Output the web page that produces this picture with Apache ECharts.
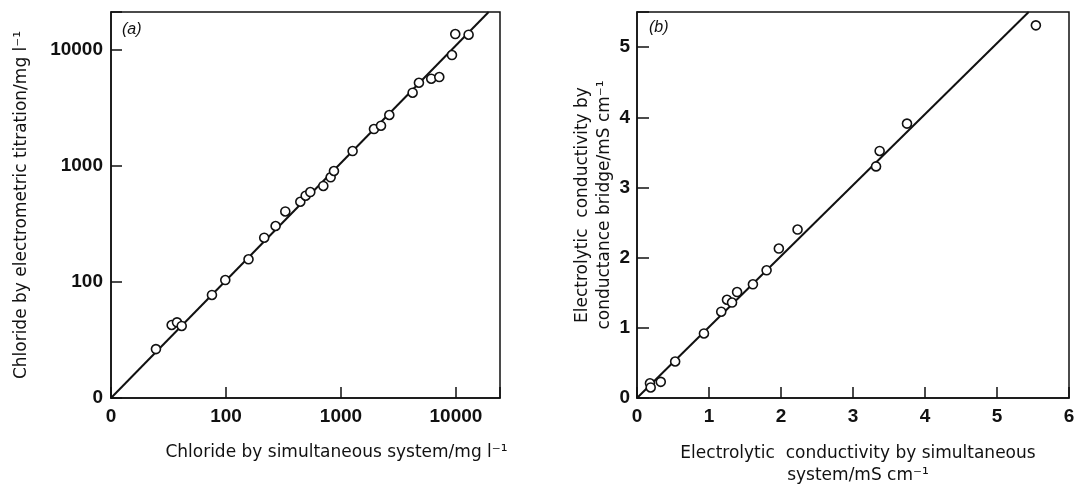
<!DOCTYPE html>
<html>
<head>
<meta charset="utf-8">
<title>Chloride and conductivity comparison</title>
<script src="https://cdn.jsdelivr.net/npm/echarts@6/dist/echarts.min.js"></script>
<style>
  html, body { margin: 0; padding: 0; background: #fff; }
  #chart { width: 1075px; height: 486px; }
</style>
</head>
<body>
<div id="chart"></div>
<script>
// (a) chloride, mg/l  (simultaneous system vs electrometric titration)
var chlorideSim = [24.6, 33.7, 37.5, 41.2, 75.5, 98.6, 157, 215, 270, 328, 443, 493, 541, 702, 813, 869,
  1262, 1936, 2228, 2632, 4198, 4764, 6095, 7161, 9230, 9860, 12880];
var chlorideTitr = [26.4, 42.6, 44.9, 41.8, 77.3, 104, 157, 241, 304, 406, 492, 555, 597, 673, 800, 906,
  1346, 2084, 2225, 2754, 4285, 5224, 5658, 5850, 9060, 13740, 13550];
var chlorideLineX = [10, 19240];
var chlorideLineY = [10, 21300];
// log axis: the bottom decade (10) is printed as "0"
var logTicks = [10, 100, 1000, 10000];
var logTickText = ["0", "100", "1000", "10000"];

// (b) electrolytic conductivity, mS/cm
var condSim = [0.18, 0.19, 0.33, 0.53, 0.93, 1.17, 1.25, 1.32, 1.39, 1.61, 1.80, 1.97, 2.23, 3.32, 3.37, 3.75, 5.54];
var condBridge = [0.21, 0.15, 0.23, 0.52, 0.92, 1.23, 1.40, 1.36, 1.51, 1.62, 1.82, 2.13, 2.40, 3.30, 3.52, 3.91, 5.31];
var condLineX = [0, 5.44];
var condLineY = [0, 5.5];
var condXTicks = [0, 1, 2, 3, 4, 5, 6];
var condYTicks = [0, 1, 2, 3, 4, 5];

function pairs(xs, ys) {
  var out = [];
  for (var i = 0; i < xs.length; i++) out.push([xs[i], ys[i]]);
  return out;
}

function logLabel(v) {
  var i = logTicks.indexOf(Math.round(v));
  return i < 0 ? "" : logTickText[i];
}

function intLabel(list) {
  return function (v) {
    return list.indexOf(v) < 0 ? "" : String(v);
  };
}

var ink = "#111";
var fontFamily = "'Liberation Sans', Arial, sans-serif";

var tickLabel = {
  color: ink,
  fontSize: 19,
  fontWeight: "bold",
  fontFamily: fontFamily
};
var nameStyle = {
  color: ink,
  fontSize: 17,
  fontFamily: "'DejaVu Sans', sans-serif",
  lineHeight: 22
};

var chart = echarts.init(document.getElementById("chart"));
chart.setOption({
  backgroundColor: "#fff",
  animation: false,
  grid: [
    {
      left: 111, top: 12, right: 575, bottom: 88,
      show: true, borderColor: ink, borderWidth: 1.5,
      containLabel: false, outerBoundsMode: "none"
    },
    {
      left: 637, top: 12, right: 6, bottom: 88,
      show: true, borderColor: ink, borderWidth: 1.5,
      containLabel: false, outerBoundsMode: "none"
    }
  ],
  xAxis: [
    {
      gridIndex: 0,
      type: "log",
      logBase: 10,
      min: 10,
      max: 24150,
      name: "Chloride by simultaneous system/mg l\u207B\u00B9",
      nameLocation: "middle",
      nameGap: 44,
      nameTextStyle: Object.assign({}, nameStyle, { padding: [0, 0, 0, 62] }),
      axisLine: { show: true, lineStyle: { color: ink, width: 1.5 } },
      axisTick: { show: true, inside: true, length: 11, lineStyle: { color: ink, width: 1.5 } },
      axisLabel: Object.assign({}, tickLabel, { margin: 9, formatter: logLabel }),
      splitLine: { show: false }
    },
    {
      gridIndex: 1,
      type: "value",
      min: 0,
      max: 6,
      interval: 1,
      name: "Electrolytic  conductivity by simultaneous\nsystem/mS cm\u207B\u00B9",
      nameLocation: "middle",
      nameGap: 45,
      nameTextStyle: Object.assign({}, nameStyle, { padding: [0, 0, 0, 10], verticalAlign: "top" }),
      axisLine: { show: true, lineStyle: { color: ink, width: 1.5 } },
      axisTick: { show: true, inside: true, length: 11, lineStyle: { color: ink, width: 1.5 } },
      axisLabel: Object.assign({}, tickLabel, { margin: 9, formatter: intLabel(condXTicks) }),
      splitLine: { show: false }
    }
  ],
  yAxis: [
    {
      gridIndex: 0,
      type: "log",
      logBase: 10,
      min: 10,
      max: 21280,
      name: "Chloride by electrometric titration/mg l\u207B\u00B9",
      nameLocation: "middle",
      nameGap: 78,
      nameTextStyle: nameStyle,
      axisLine: { show: true, lineStyle: { color: ink, width: 1.5 } },
      axisTick: { show: true, inside: true, length: 11, lineStyle: { color: ink, width: 1.5 } },
      axisLabel: Object.assign({}, tickLabel, { margin: 8, formatter: logLabel }),
      splitLine: { show: false }
    },
    {
      gridIndex: 1,
      type: "value",
      min: 0,
      max: 5.5,
      interval: 1,
      name: "Electrolytic  conductivity by\nconductance bridge/mS cm\u207B\u00B9",
      nameLocation: "middle",
      nameGap: 21,
      nameTextStyle: nameStyle,
      axisLine: { show: true, lineStyle: { color: ink, width: 1.5 } },
      axisTick: { show: true, inside: true, length: 12, lineStyle: { color: ink, width: 1.5 } },
      axisLabel: Object.assign({}, tickLabel, { margin: 7, formatter: intLabel(condYTicks) }),
      splitLine: { show: false }
    }
  ],
  graphic: [
    {
      type: "text", left: 122, top: 22,
      style: { text: "(a)", fill: ink, fontSize: 16, fontStyle: "italic", fontFamily: fontFamily }
    },
    {
      type: "text", left: 649, top: 20,
      style: { text: "(b)", fill: ink, fontSize: 16, fontStyle: "italic", fontFamily: fontFamily }
    }
  ],
  series: [
    {
      name: "fit a",
      type: "line",
      xAxisIndex: 0,
      yAxisIndex: 0,
      data: pairs(chlorideLineX, chlorideLineY),
      symbol: "none",
      lineStyle: { color: ink, width: 2 },
      z: 2
    },
    {
      name: "chloride",
      type: "scatter",
      xAxisIndex: 0,
      yAxisIndex: 0,
      data: pairs(chlorideSim, chlorideTitr),
      symbol: "circle",
      symbolSize: 9,
      itemStyle: { color: "#fff", borderColor: ink, borderWidth: 1.6, opacity: 1 },
      z: 3
    },
    {
      name: "fit b",
      type: "line",
      xAxisIndex: 1,
      yAxisIndex: 1,
      data: pairs(condLineX, condLineY),
      symbol: "none",
      lineStyle: { color: ink, width: 2 },
      z: 2
    },
    {
      name: "conductivity",
      type: "scatter",
      xAxisIndex: 1,
      yAxisIndex: 1,
      data: pairs(condSim, condBridge),
      symbol: "circle",
      symbolSize: 9,
      itemStyle: { color: "#fff", borderColor: ink, borderWidth: 1.6, opacity: 1 },
      z: 3
    }
  ]
});
</script>
</body>
</html>
